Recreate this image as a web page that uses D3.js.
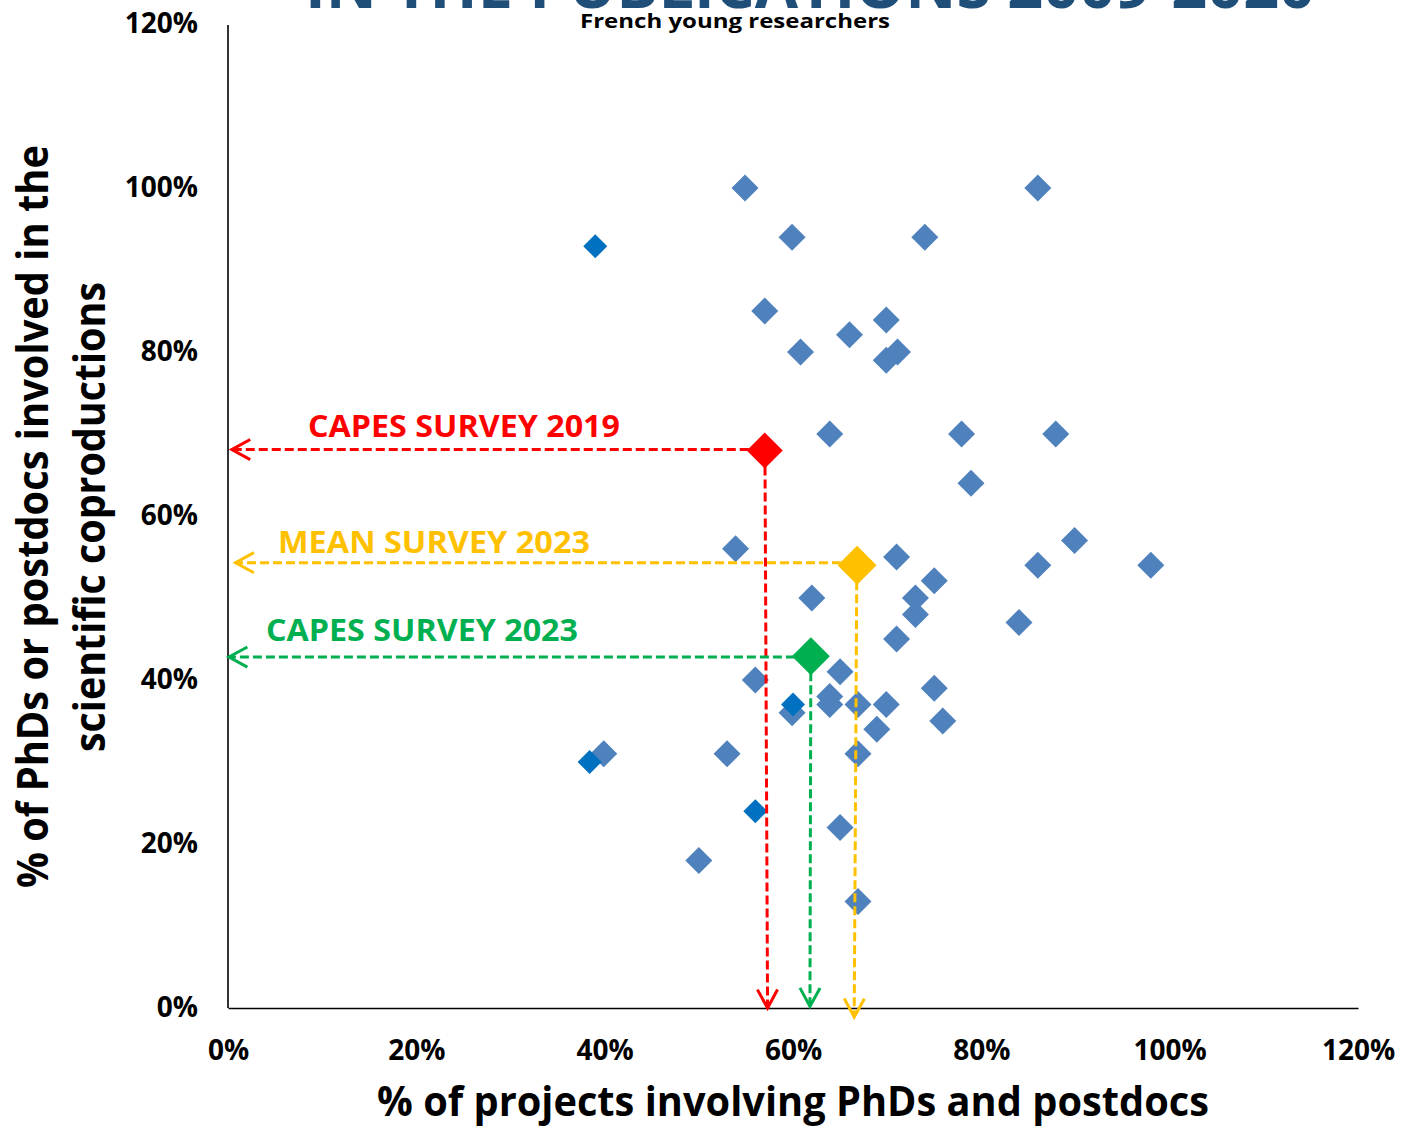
<!DOCTYPE html>
<html>
<head>
<meta charset="utf-8">
<script src="https://cdn.jsdelivr.net/npm/d3@7"></script>
<style>
  html, body { margin: 0; padding: 0; background: #fff; }
  svg { display: block; font-family: "Open Sans", "Noto Sans", sans-serif; }
</style>
</head>
<body>
<svg id="chart" width="1401" height="1131"></svg>
<script>
// ---------- data ----------
const xTicks = [0, 0.2, 0.4, 0.6, 0.8, 1.0, 1.2];
const yTicks = [0, 0.2, 0.4, 0.6, 0.8, 1.0, 1.2];

// light-blue projects (x = % projects involving PhDs/postdocs, y = % involved in coproductions)
const projX = [0.549, 0.860, 0.599, 0.740, 0.570, 0.699, 0.660, 0.608, 0.711, 0.699,
               0.639, 0.779, 0.879, 0.789, 0.899, 0.539, 0.710, 0.860, 0.980, 0.750,
               0.730, 0.620, 0.730, 0.840, 0.710, 0.650, 0.560, 0.750, 0.639, 0.639,
               0.669, 0.699, 0.599, 0.759, 0.689, 0.399, 0.530, 0.669, 0.650, 0.500,
               0.669];
const projY = [1.000, 1.000, 0.940, 0.940, 0.850, 0.839, 0.821, 0.800, 0.800, 0.790,
               0.700, 0.700, 0.700, 0.640, 0.570, 0.560, 0.550, 0.540, 0.540, 0.521,
               0.500, 0.500, 0.480, 0.470, 0.450, 0.410, 0.400, 0.390, 0.380, 0.370,
               0.370, 0.370, 0.360, 0.350, 0.340, 0.310, 0.310, 0.310, 0.220, 0.180,
               0.130];
// darker-blue projects
const darkX = [0.390, 0.600, 0.384, 0.560];
const darkY = [0.929, 0.370, 0.300, 0.240];

// surveys
const surveyNames  = ["CAPES SURVEY 2019", "MEAN SURVEY 2023", "CAPES SURVEY 2023"];
const surveyX      = [0.570, 0.668, 0.619];
const surveyY      = [0.680, 0.540, 0.429];
const surveyColors = ["#FF0000", "#FFC000", "#00B050"];
// arrow end points (data units)
const arrowHX = [0.004, 0.008, 0.001];   // horizontal arrow tip x
const arrowVY = [0.0, -0.011, 0.002];    // vertical arrow tip y
const arrowVX = [0.573, 0.665, 0.618];   // vertical arrow tip x
const arrowHY = [0.681, 0.543, 0.428];   // horizontal arrow tip y

const titleText = "IN THE PUBLICATIONS 2009-2020";
const subtitleText = "French young researchers";
const xTitle = "% of projects involving PhDs and postdocs";
const yTitle1 = "% of PhDs or postdocs involved in the";
const yTitle2 = "scientific coproductions";

// ---------- layout ----------
const svg = d3.select("#chart");
const x = d3.scaleLinear().domain([0, 1.2]).range([228, 1358]);
const y = d3.scaleLinear().domain([0, 1.2]).range([1008, 24]);

// title (cut off at top)
svg.append("text").attr("x", 305).attr("y", 8)
  .attr("font-size", 62).attr("font-weight", 700).attr("fill", "#1F4E79")
  .attr("textLength", 1010).attr("lengthAdjust", "spacingAndGlyphs")
  .text(titleText);
svg.append("text").attr("x", 580).attr("y", 28)
  .attr("font-size", 20).attr("font-weight", 700).attr("fill", "#000")
  .attr("textLength", 310).attr("lengthAdjust", "spacingAndGlyphs")
  .text(subtitleText);

// axes
const xAxis = d3.axisBottom(x).tickValues(xTicks).tickSize(0).tickPadding(0)
  .tickFormat(d3.format(".0%"));
const gx = svg.append("g").attr("transform", `translate(0,${y(0)})`).call(xAxis);
gx.select(".domain").attr("stroke", "#000").attr("stroke-width", 1.6);
gx.selectAll("text").attr("font-size", 28).attr("font-weight", 700)
  .attr("font-family", "Open Sans").attr("fill", "#000")
  .attr("dy", null).attr("y", 52);

const yAxis = d3.axisLeft(y).tickValues(yTicks).tickSize(0).tickPadding(30)
  .tickFormat(d3.format(".0%"));
const gy = svg.append("g").attr("transform", `translate(${x(0)},0)`).call(yAxis);
gy.select(".domain").attr("stroke", "#000").attr("stroke-width", 1.6)
  .attr("d", `M0,${y(1.2) + 1}V${y(0)}`);
gy.selectAll("text").attr("font-size", 28).attr("font-weight", 700)
  .attr("font-family", "Open Sans").attr("fill", "#000");

// axis titles
svg.append("text").attr("x", 377).attr("y", 1116)
  .attr("font-size", 42).attr("font-weight", 700).attr("fill", "#000")
  .attr("textLength", 832).attr("lengthAdjust", "spacingAndGlyphs")
  .text(xTitle);
svg.append("text").attr("transform", "translate(48,888) rotate(-90)")
  .attr("font-size", 43).attr("font-weight", 700).attr("fill", "#000")
  .attr("textLength", 743).attr("lengthAdjust", "spacingAndGlyphs")
  .text(yTitle1);
svg.append("text").attr("transform", "translate(105,752) rotate(-90)")
  .attr("font-size", 43).attr("font-weight", 700).attr("fill", "#000")
  .attr("textLength", 470).attr("lengthAdjust", "spacingAndGlyphs")
  .text(yTitle2);

// diamonds helper
function diamond(halfDiag) {
  const s = halfDiag * Math.SQRT2;
  return d3.symbol().type(d3.symbolSquare).size(s * s)();
}

// project points
const proj = projX.map((v, i) => ({x: v, y: projY[i]}));
svg.append("g").selectAll("path").data(proj).join("path")
  .attr("d", diamond(13.5))
  .attr("transform", d => `translate(${x(d.x)},${y(d.y)}) rotate(45)`)
  .attr("fill", "#4F81BD");
const dark = darkX.map((v, i) => ({x: v, y: darkY[i]}));
svg.append("g").selectAll("path").data(dark).join("path")
  .attr("d", diamond(12))
  .attr("transform", d => `translate(${x(d.x)},${y(d.y)}) rotate(45)`)
  .attr("fill", "#0070C0");

// survey arrows
const surveys = surveyNames.map((n, i) => ({
  name: n, x: surveyX[i], y: surveyY[i], color: surveyColors[i],
  hx: arrowHX[i], hy: arrowHY[i], vx: arrowVX[i], vy: arrowVY[i]
}));
const ga = svg.append("g");
function arrow(g, x1, y1, x2, y2, color) {
  g.append("line").attr("x1", x1).attr("y1", y1).attr("x2", x2).attr("y2", y2)
    .attr("stroke", color).attr("stroke-width", 3).attr("stroke-dasharray", "9,4");
  const ang = Math.atan2(y2 - y1, x2 - x1);
  const L = 21, a = 0.5;
  const p1 = [x2 - L * Math.cos(ang - a), y2 - L * Math.sin(ang - a)];
  const p2 = [x2 - L * Math.cos(ang + a), y2 - L * Math.sin(ang + a)];
  g.append("path").attr("d", `M${p1[0]},${p1[1]}L${x2},${y2}L${p2[0]},${p2[1]}`)
    .attr("fill", "none").attr("stroke", color).attr("stroke-width", 3)
    .attr("stroke-linejoin", "miter");
}
surveys.forEach(s => {
  arrow(ga, x(s.x) - 16, y(s.hy), x(s.hx), y(s.hy), s.color);
  arrow(ga, x(s.vx) - (x(s.vx) - x(s.x)) * 0.9, y(s.y) + 16, x(s.vx), y(s.vy), s.color);
});
const halfs = [18, 19.5, 19];
svg.append("g").selectAll("path").data(surveys).join("path")
  .attr("d", (d, i) => diamond(halfs[i]))
  .attr("transform", d => `translate(${x(d.x)},${y(d.y)}) rotate(45)`)
  .attr("fill", d => d.color);

// survey labels
const labelX = [308, 278, 266];
const labelY = [437, 553, 641];
svg.append("g").selectAll("text").data(surveys).join("text")
  .attr("x", (d, i) => labelX[i]).attr("y", (d, i) => labelY[i])
  .attr("font-size", 31).attr("font-weight", 700)
  .attr("fill", d => d.color)
  .attr("textLength", 312).attr("lengthAdjust", "spacingAndGlyphs")
  .text(d => d.name);
</script>
</body>
</html>
